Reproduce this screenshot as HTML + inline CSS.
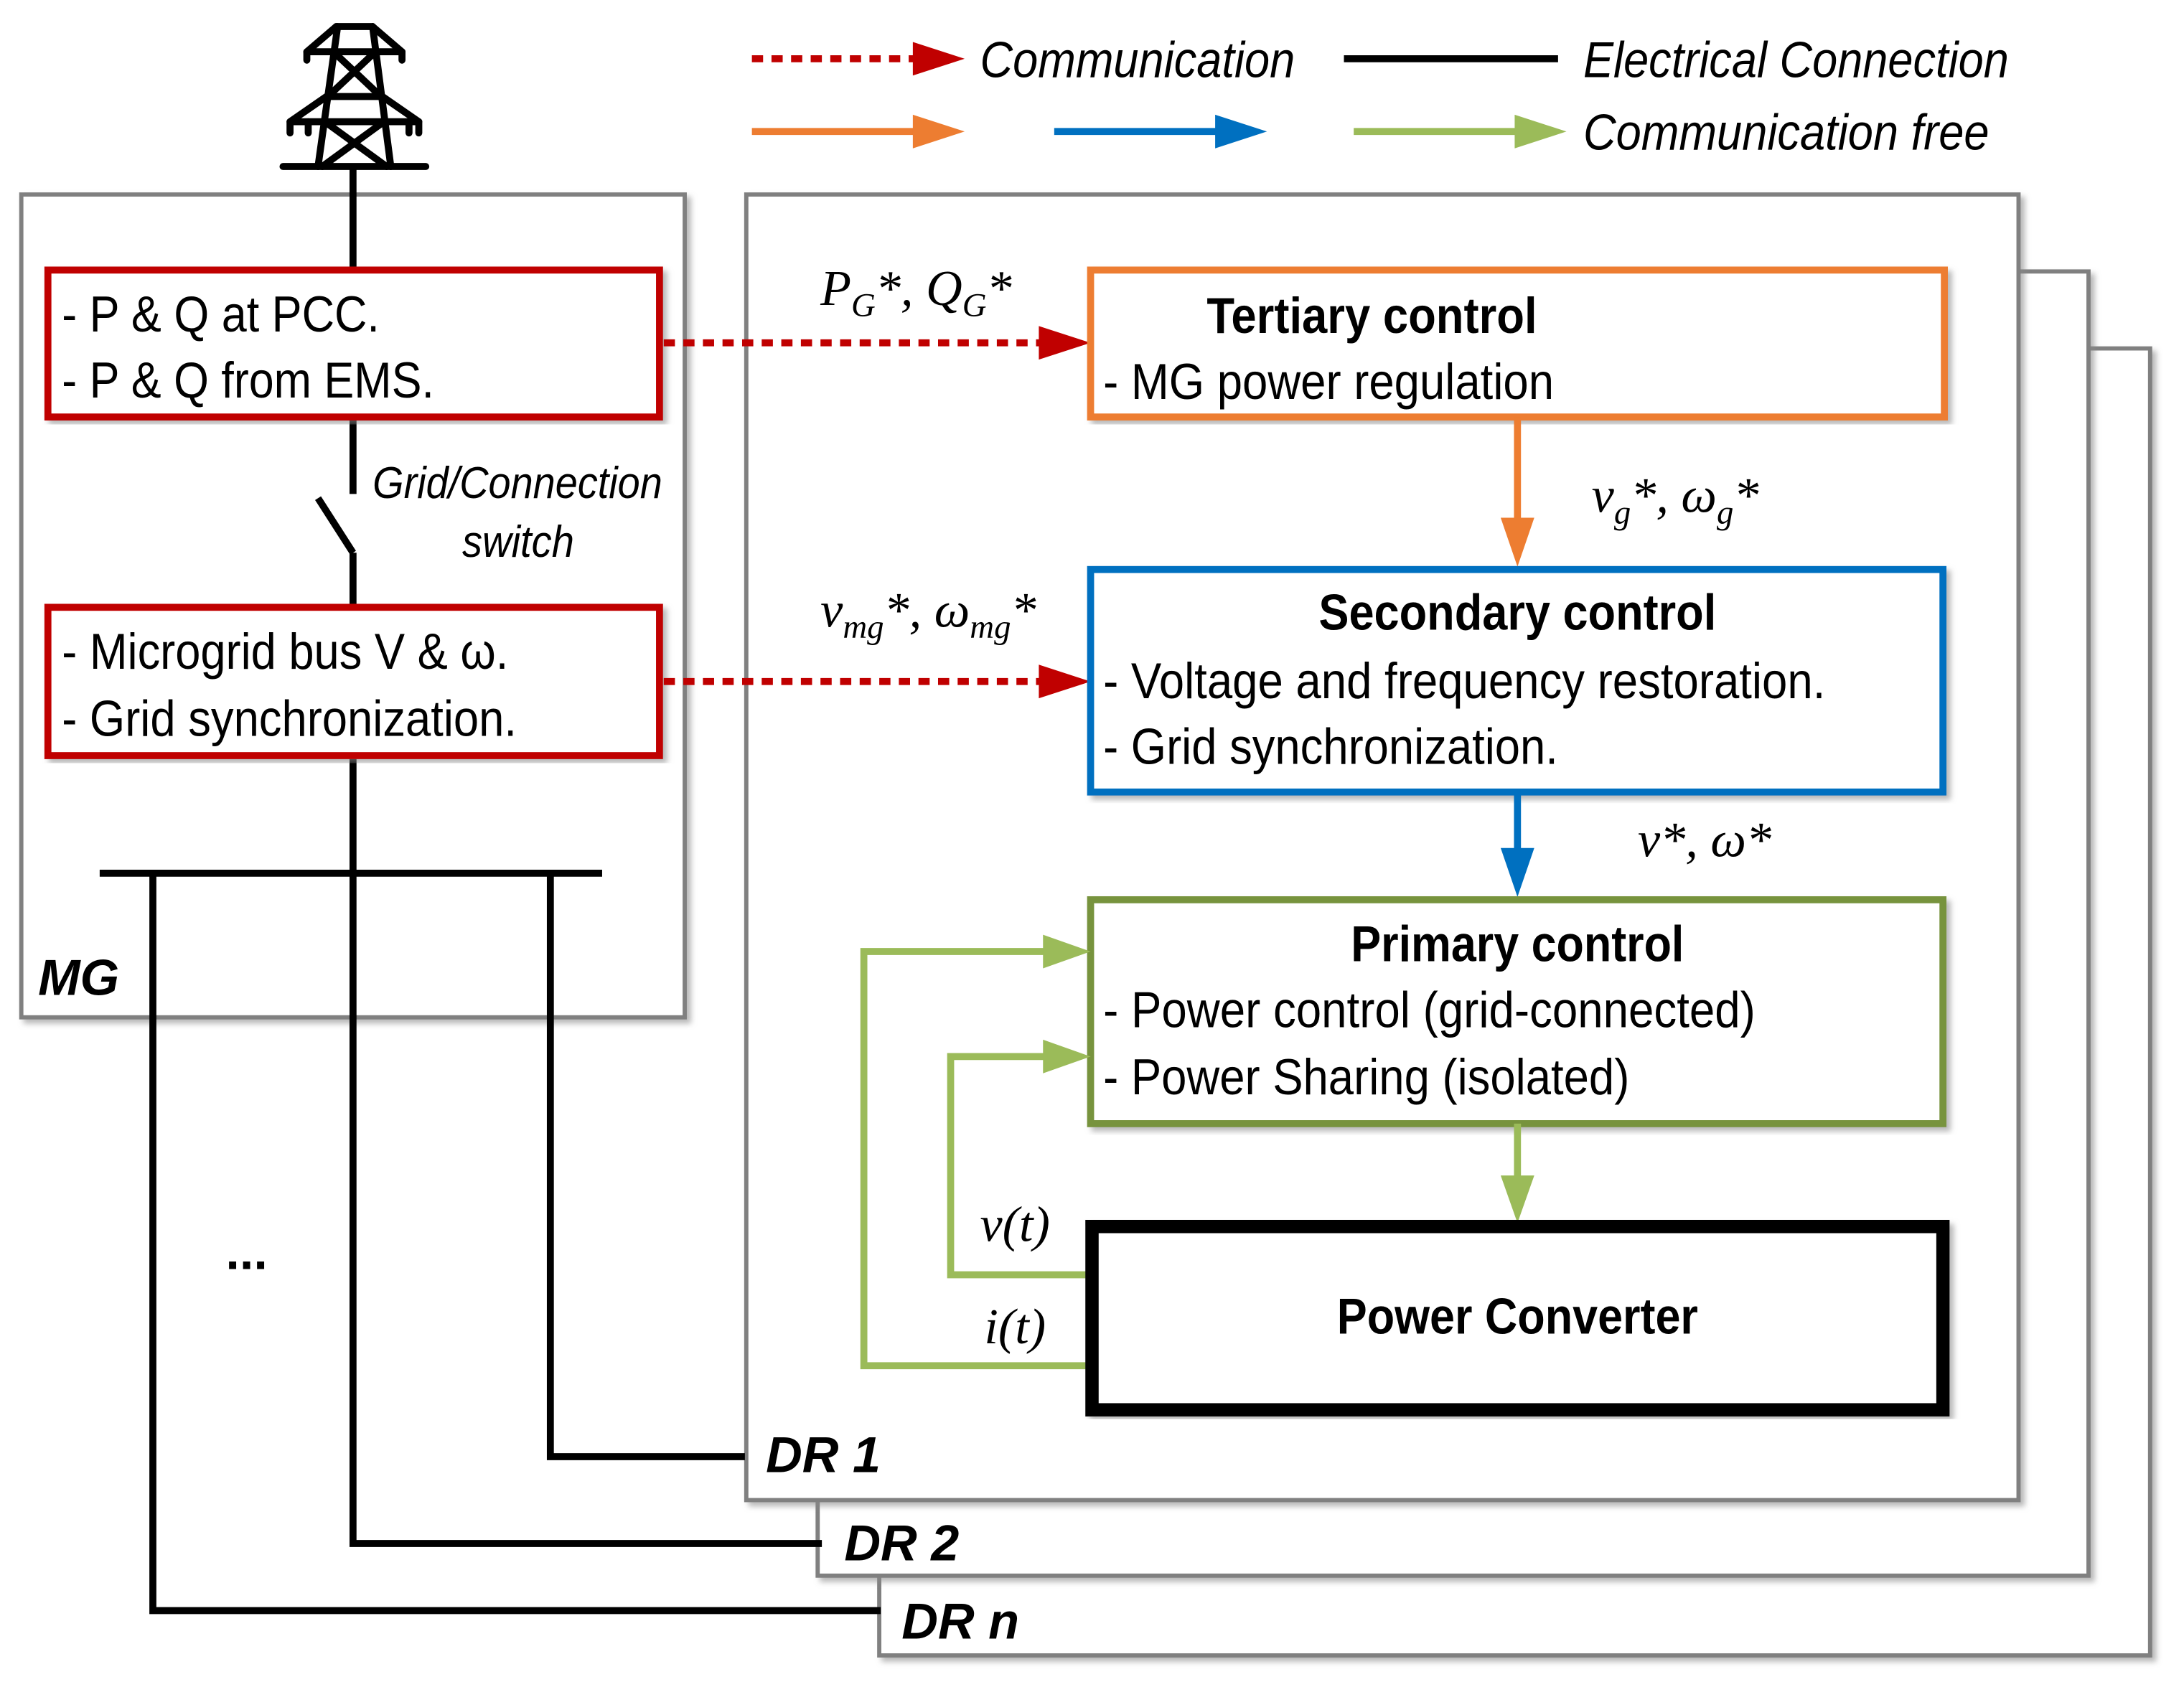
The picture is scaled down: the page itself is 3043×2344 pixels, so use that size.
<!DOCTYPE html>
<html><head><meta charset="utf-8"><style>
html,body{margin:0;padding:0;background:#fff}
svg{display:block}
text{font-family:"Liberation Sans",sans-serif;fill:#000}
.s{font-family:"Liberation Serif",serif;font-style:italic}
</style></head><body>
<svg width="3043" height="2344" viewBox="0 0 1560 1202" xmlns="http://www.w3.org/2000/svg">
<defs>
<filter id="sh" x="-5%" y="-5%" width="110%" height="110%"><feDropShadow dx="3" dy="3" stdDeviation="2" flood-color="#888" flood-opacity="0.6"/></filter>
</defs>
<!-- Legend -->
<line x1="537" y1="42" x2="655" y2="42" stroke="#c00000" stroke-width="5" stroke-dasharray="8,6"/>
<path d="M652,30 L689,42 L652,54z" fill="#c00000"/>
<text x="700" y="55" font-size="36" font-style="italic" textLength="225" lengthAdjust="spacingAndGlyphs">Communication</text>
<line x1="960" y1="42" x2="1113" y2="42" stroke="#000" stroke-width="5"/>
<text x="1131" y="55" font-size="36" font-style="italic" textLength="304" lengthAdjust="spacingAndGlyphs">Electrical Connection</text>
<line x1="537" y1="94" x2="655" y2="94" stroke="#ed7d31" stroke-width="5"/><path d="M652,82 L689,94 L652,106z" fill="#ed7d31"/>
<line x1="753" y1="94" x2="871" y2="94" stroke="#0070c0" stroke-width="5"/><path d="M868,82 L905,94 L868,106z" fill="#0070c0"/>
<line x1="967" y1="94" x2="1085" y2="94" stroke="#9bbb59" stroke-width="5"/><path d="M1082,82 L1119,94 L1082,106z" fill="#9bbb59"/>
<text x="1131" y="107" font-size="36" font-style="italic" textLength="290" lengthAdjust="spacingAndGlyphs">Communication free</text>
<!-- Tower -->
<g stroke="#000" stroke-width="5" fill="none" stroke-linecap="round" stroke-linejoin="round">
<path d="M240,19 L266,19"/>
<path d="M241,19 L227,119 M266,19 L279,119"/>
<path d="M240,19 L219,37 L287,37 L266,19"/>
<path d="M219,37 L219,43 M287,37 L287,43"/>
<path d="M233,69 L207,87 L299,87 L273,69 L233,69"/>
<path d="M207,87 L207,95 M220,87 L220,95 M292,87 L292,95 M299,87 L299,95"/>
<path d="M238,37 L272,69 M268,37 L234,69"/>
<path d="M232,87 L276,119 M274,87 L230,119"/>
<path d="M202,119 L304,119"/>
</g>
<!-- DR boxes -->
<rect x="628" y="249" width="908" height="934" fill="#fff" stroke="#808080" stroke-width="3" filter="url(#sh)"/>
<rect x="584" y="194" width="908" height="932" fill="#fff" stroke="#808080" stroke-width="3" filter="url(#sh)"/>
<rect x="533" y="139" width="909" height="933" fill="#fff" stroke="#808080" stroke-width="3" filter="url(#sh)"/>
<!-- MG box -->
<rect x="15" y="139" width="474" height="588" fill="#fff" stroke="#808080" stroke-width="3" filter="url(#sh)"/>
<text x="27" y="711" font-size="36" font-weight="bold" font-style="italic">MG</text>
<!-- electrical lines -->
<g stroke="#000" stroke-width="5" fill="none">
<path d="M252,120 L252,193"/>
<path d="M252,298 L252,353 M227,356 L252,395 M252,395 L252,434"/>
<path d="M252,540 L252,1103 L587,1103"/>
<path d="M71,624 L430,624"/>
<path d="M393,624 L393,1041 L532,1041"/>
<path d="M109,624 L109,1151 L629,1151"/>
</g>
<text x="266" y="356" font-size="32" font-style="italic" textLength="207" lengthAdjust="spacingAndGlyphs">Grid/Connection</text>
<text x="330" y="398" font-size="32" font-style="italic" textLength="80" lengthAdjust="spacingAndGlyphs">switch</text>
<text x="161" y="907" font-size="36" font-weight="bold">...</text>
<!-- red boxes -->
<rect x="34" y="193" width="437" height="105" fill="#fff" stroke="#c00000" stroke-width="5" filter="url(#sh)"/>
<text x="44" y="237" font-size="36" textLength="227" lengthAdjust="spacingAndGlyphs">- P &amp; Q at PCC.</text>
<text x="44" y="284" font-size="36" textLength="266" lengthAdjust="spacingAndGlyphs">- P &amp; Q from EMS.</text>
<rect x="34" y="434" width="437" height="106" fill="#fff" stroke="#c00000" stroke-width="5" filter="url(#sh)"/>
<text x="44" y="478" font-size="36" textLength="319" lengthAdjust="spacingAndGlyphs">- Microgrid bus V &amp; ω.</text>
<text x="44" y="526" font-size="36" textLength="325" lengthAdjust="spacingAndGlyphs">- Grid synchronization.</text>
<!-- dotted arrows -->
<line x1="474" y1="245" x2="744" y2="245" stroke="#c00000" stroke-width="5" stroke-dasharray="8,6"/>
<path d="M742,233 L779,245 L742,257z" fill="#c00000"/>
<line x1="474" y1="487" x2="744" y2="487" stroke="#c00000" stroke-width="5" stroke-dasharray="8,6"/>
<path d="M742,475 L779,487 L742,499z" fill="#c00000"/>
<text class="s" x="586" y="218" font-size="36">P<tspan font-size="24" dy="8">G</tspan><tspan dy="-8">*, Q</tspan><tspan font-size="24" dy="8">G</tspan><tspan dy="-8">*</tspan></text>
<text class="s" x="586" y="448" font-size="36">v<tspan font-size="24" dy="8">mg</tspan><tspan dy="-8">*, ω</tspan><tspan font-size="24" dy="8">mg</tspan><tspan dy="-8">*</tspan></text>
<!-- Tertiary -->
<rect x="779" y="193" width="610" height="105" fill="#fff" stroke="#ed7d31" stroke-width="5" filter="url(#sh)"/>
<text x="862" y="238" font-size="36" font-weight="bold" textLength="236" lengthAdjust="spacingAndGlyphs">Tertiary control</text>
<text x="788" y="285" font-size="36" textLength="322" lengthAdjust="spacingAndGlyphs">- MG power regulation</text>
<line x1="1084" y1="298" x2="1084" y2="372" stroke="#ed7d31" stroke-width="5"/><path d="M1072,370 L1084,405 L1096,370z" fill="#ed7d31"/>
<text class="s" x="1137" y="366" font-size="36">v<tspan font-size="24" dy="8">g</tspan><tspan dy="-8">*, ω</tspan><tspan font-size="24" dy="8">g</tspan><tspan dy="-8">*</tspan></text>
<!-- Secondary -->
<rect x="779" y="407" width="609" height="159" fill="#fff" stroke="#0070c0" stroke-width="5" filter="url(#sh)"/>
<text x="942" y="450" font-size="36" font-weight="bold" textLength="284" lengthAdjust="spacingAndGlyphs">Secondary control</text>
<text x="788" y="499" font-size="36" textLength="516" lengthAdjust="spacingAndGlyphs">- Voltage and frequency restoration.</text>
<text x="788" y="546" font-size="36" textLength="325" lengthAdjust="spacingAndGlyphs">- Grid synchronization.</text>
<line x1="1084" y1="566" x2="1084" y2="608" stroke="#0070c0" stroke-width="5"/><path d="M1072,606 L1084,641 L1096,606z" fill="#0070c0"/>
<text class="s" x="1170" y="612" font-size="36">v*, ω*</text>
<!-- Primary -->
<rect x="779" y="643" width="609" height="160" fill="#fff" stroke="#77933c" stroke-width="5" filter="url(#sh)"/>
<text x="965" y="687" font-size="36" font-weight="bold" textLength="238" lengthAdjust="spacingAndGlyphs">Primary control</text>
<text x="788" y="734" font-size="36" textLength="466" lengthAdjust="spacingAndGlyphs">- Power control (grid-connected)</text>
<text x="788" y="782" font-size="36" textLength="376" lengthAdjust="spacingAndGlyphs">- Power Sharing (isolated)</text>
<line x1="1084" y1="803" x2="1084" y2="842" stroke="#9bbb59" stroke-width="5"/><path d="M1072,840 L1084,874 L1096,840z" fill="#9bbb59"/>
<!-- feedback -->
<path d="M778,911 L679,911 L679,755 L748,755" stroke="#9bbb59" stroke-width="5" fill="none"/>
<path d="M745,743 L779,755 L745,767z" fill="#9bbb59"/>
<path d="M778,976 L617,976 L617,680 L748,680" stroke="#9bbb59" stroke-width="5" fill="none"/>
<path d="M745,668 L779,680 L745,692z" fill="#9bbb59"/>
<text class="s" x="700" y="887" font-size="36">v(t)</text>
<text class="s" x="703" y="960" font-size="36">i(t)</text>
<!-- Power converter -->
<rect x="780" y="876.5" width="608" height="131" fill="#fff" stroke="#000" stroke-width="9.5" filter="url(#sh)"/>
<text x="955" y="953" font-size="36" font-weight="bold" textLength="258" lengthAdjust="spacingAndGlyphs">Power Converter</text>
<!-- DR labels -->
<text x="547" y="1052" font-size="36" font-weight="bold" font-style="italic">DR 1</text>
<text x="603" y="1115" font-size="36" font-weight="bold" font-style="italic">DR 2</text>
<text x="644" y="1171" font-size="36" font-weight="bold" font-style="italic">DR n</text>
</svg>
</body></html>
